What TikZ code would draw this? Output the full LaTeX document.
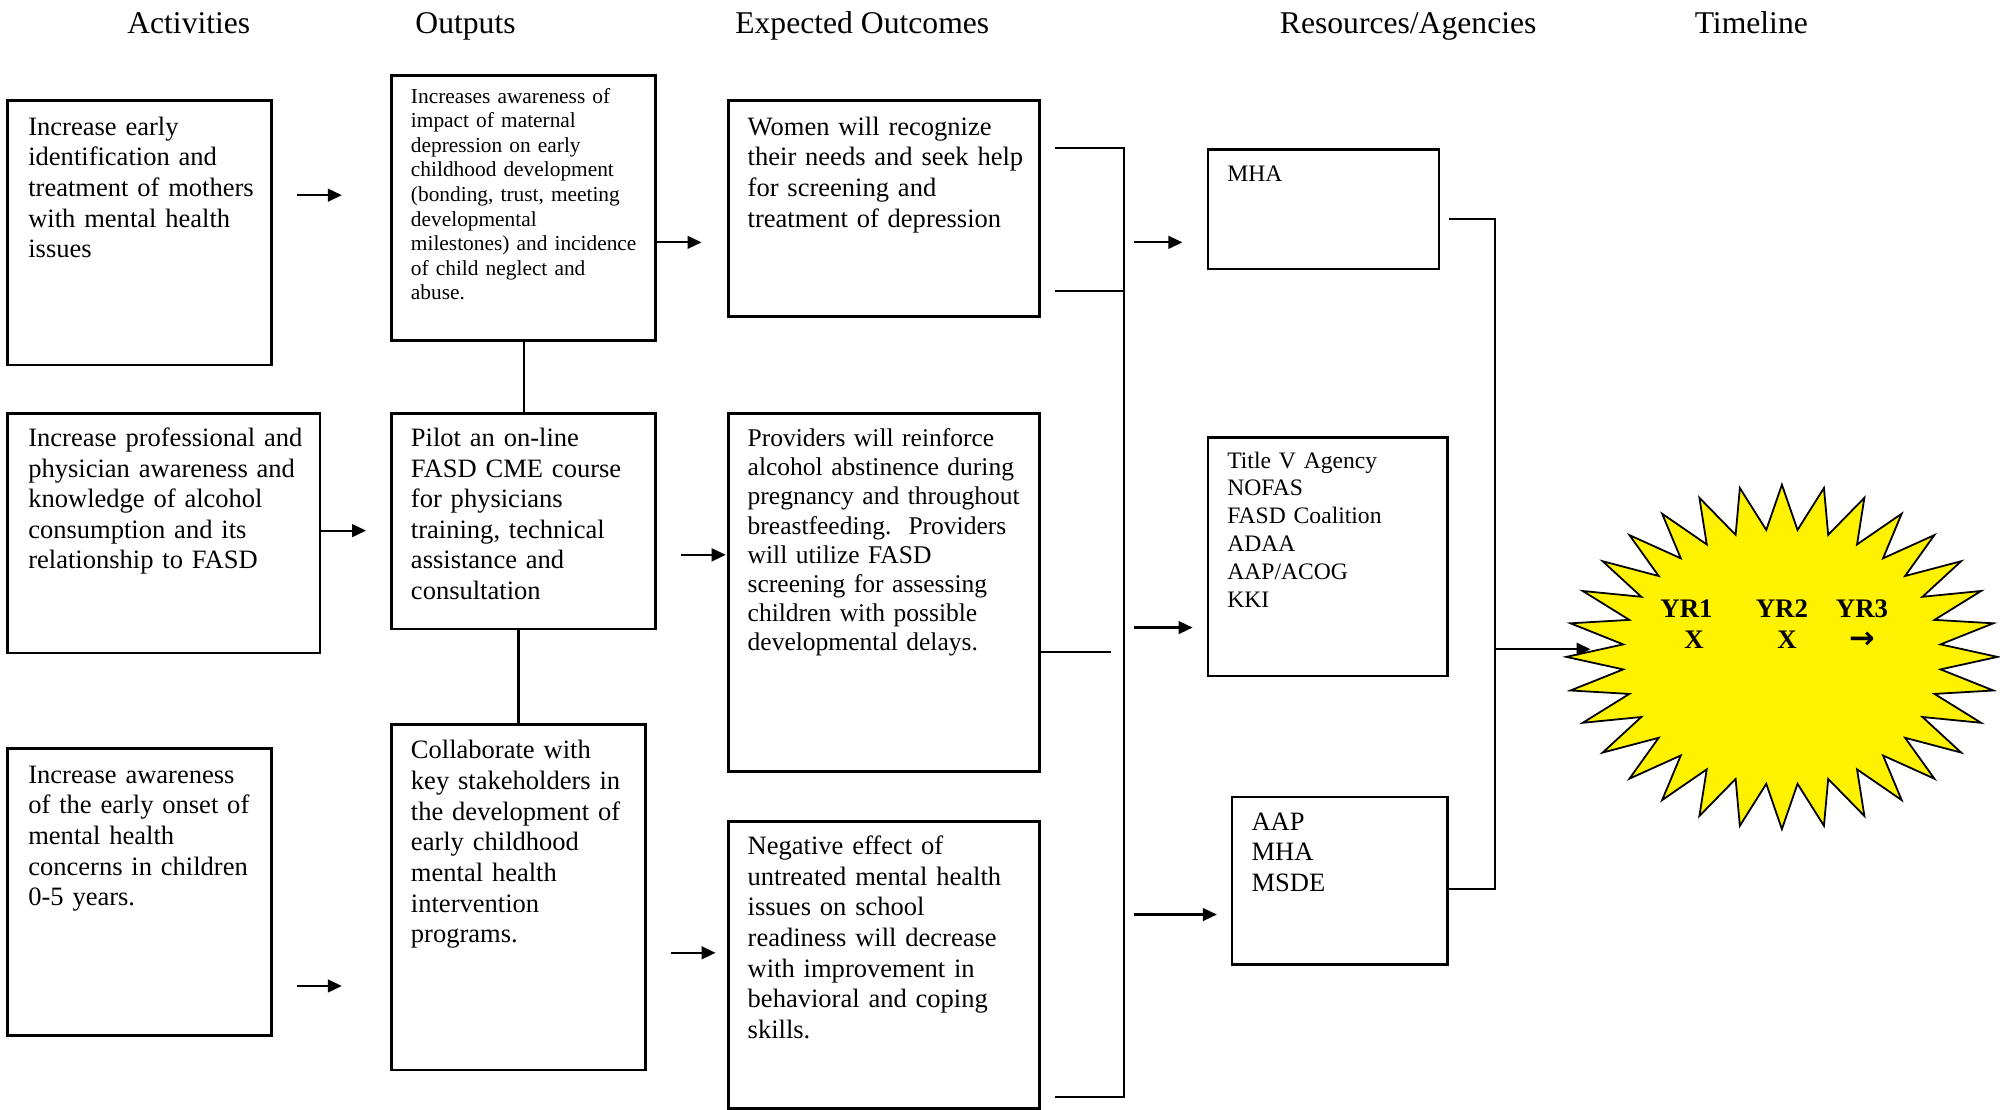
\documentclass[tikz,border=0pt]{standalone}
\usepackage{fontspec}
\setmainfont{Liberation Serif}
\newfontfamily\arrowfont{DejaVu Sans}
\usetikzlibrary{arrows.meta,positioning}

\begin{document}
\begin{tikzpicture}[x=1pt, y=-1pt,
  box/.style={draw, line width=2pt, anchor=north west, inner sep=0pt},
  txt/.style={anchor=base west, align=left, inner sep=0pt, text width=240pt, font=\fontsize{20.8}{24}\selectfont},
  head/.style={anchor=base, font=\fontsize{24.8}{28}\selectfont},
  line/.style={line width=1.7pt},
  arr/.style={line width=1.7pt, -{Triangle[length=11pt,width=10pt]}},
  burst/.style={fill=yellow, draw=black, line width=1.4pt, line join=miter}]
\useasboundingbox (0,0) rectangle (1568,870);

% column heads
\node[head] (hact) at (148,26) {Activities};
\node[head] (hout) at (365,26) {Outputs};
\node[head] (hexp) at (676,26) {Expected Outcomes};
\node[head] (hres) at (1104,26) {Resources/Agencies};
\node[head] (htim) at (1373,26) {Timeline};

% activities
\node[box, minimum width=207, minimum height=207] (a1) at (5,78) {};
\node[box, minimum width=245, minimum height=188] (a2) at (5,323) {};
\node[box, minimum width=207, minimum height=225] (a3) at (5,586) {};
\node[txt] (a1t) at (22,106) {Increase early\\identification and\\treatment of mothers\\with mental health\\issues};
\node[txt] (a2t) at (22,350) {Increase professional and\\physician awareness and\\knowledge of alcohol\\consumption and its\\relationship to FASD};
\node[txt] (a3t) at (22,614) {Increase awareness\\of the early onset of\\mental health\\concerns in children\\0-5 years.};

% outputs
\node[box, minimum width=207, minimum height=208] (o1) at (306,58) {};
\node[box, minimum width=207, minimum height=169] (o2) at (306,323) {};
\node[box, minimum width=199, minimum height=271] (o3) at (306,567) {};
\node[txt, font=\fontsize{16.75}{19.25}\selectfont] (o1t) at (322,81) {Increases awareness of\\impact of maternal\\depression on early\\childhood development\\(bonding, trust, meeting\\developmental\\milestones) and incidence\\of child neglect and\\abuse.};
\node[txt] (o2t) at (322,350) {Pilot an on-line\\FASD CME course\\for physicians\\training, technical\\assistance and\\consultation};
\node[txt] (o3t) at (322,595) {Collaborate with\\key stakeholders in\\the development of\\early childhood\\mental health\\intervention\\programs.};

% expected outcomes
\node[box, minimum width=244, minimum height=169] (e1) at (570,78) {};
\node[box, minimum width=244, minimum height=281] (e2) at (570,323) {};
\node[box, minimum width=244, minimum height=225] (e3) at (570,643) {};
\node[txt] (e1t) at (586,106) {Women will recognize\\their needs and seek help\\for screening and\\treatment of depression};
\node[txt, font=\fontsize{20}{22.9}\selectfont] (e2t) at (586,350) {Providers will reinforce\\alcohol abstinence during\\pregnancy and throughout\\breastfeeding.\ \ Providers\\will utilize FASD\\screening for assessing\\children with possible\\developmental delays.};
\node[txt] (e3t) at (586,670) {Negative effect of\\untreated mental health\\issues on school\\readiness will decrease\\with improvement in\\behavioral and coping\\skills.};

% resources
\node[box, minimum width=181, minimum height=94] (r1) at (946,116) {};
\node[box, minimum width=188, minimum height=187] (r2) at (946,342) {};
\node[box, minimum width=169, minimum height=131] (r3) at (965,624) {};
\node[txt, font=\fontsize{18.5}{21.8}\selectfont] (r1t) at (962,142) {MHA};
\node[txt, font=\fontsize{18.5}{21.8}\selectfont] (r2t) at (962,367) {Title V Agency\\NOFAS\\FASD Coalition\\ADAA\\AAP/ACOG\\KKI};
\node[txt] (r3t) at (981,651) {AAP\\MHA\\MSDE};

% timeline burst
\begin{scope}[shift={(1397,515)}]
\draw[burst] (90:169 and 135) \foreach \i in {1,...,32}{ -- ({\i*11.25+84.375}:125 and 100) -- ({\i*11.25+90}:169 and 135)} -- cycle;
\end{scope}
\node[anchor=base, inner sep=0pt, font=\fontsize{21}{24.3}\selectfont\bfseries] (yrs) at (1391,484)
  {\begin{tabular}[t]{@{}c@{\hspace{34pt}}c@{\hspace{22pt}}c@{}}YR1 & YR2 & YR3\\\hspace{12pt}X & \hspace{8pt}X & {\arrowfont\bfseries\fontsize{24}{24}\selectfont →}\end{tabular}};

% arrows between columns
\draw[arr, shorten <=19, shorten >=38] (a1.east |- 0,153) -- (o1.west |- 0,153);
\draw[arr, shorten >=20] (o1.east |- 0,190) -- (e1.west |- 0,190);
\draw[arr, shorten >=19] (a2.east |- 0,416) -- (o2.west |- 0,416);
\draw[arr, shorten <=19, shorten >=1] (o2.east |- 0,435) -- (e2.west |- 0,435);
\draw[arr, shorten <=19, shorten >=38] (a3.east |- 0,773) -- (o3.west |- 0,773);
\draw[arr, shorten <=19, shorten >=9] (o3.east |- 0,747) -- (e3.west |- 0,747);
\draw[line] (o1.south) -- (o2.north);
\draw[line] (o2.south -| o3.north) -- (o3.north);

% outcomes bracket
\coordinate (etop) at (881,116);
\coordinate (ebot) at (881,860);
\draw[line, shorten <=11, shorten >=11] (e1.east |- etop) -- (etop) -- (ebot) -- (e3.east |- ebot);
\draw[line, shorten <=11] (e1.east |- 0,228) -- (etop |- 0,228);
\draw[line, shorten >=10] (e2.east |- 0,511) -- (etop |- 0,511);
\draw[arr, shorten <=8, shorten >=19] (etop |- 0,190) -- (r1.west |- 0,190);
\draw[arr, shorten <=8, shorten >=11] (etop |- 0,492) -- (r2.west |- 0,492);
\draw[arr, shorten <=8, shorten >=11] (etop |- 0,717) -- (r3.west |- 0,717);

% resources bracket
\coordinate (rtop) at (1172,172);
\coordinate (rbot) at (1172,697);
\coordinate (startip) at (1247,509);
\draw[line, shorten <=7] (r1.east |- rtop) -- (rtop) -- (rbot) -- (r3.east |- rbot);
\draw[arr] (rtop |- startip) -- (startip);
\end{tikzpicture}
\end{document}
